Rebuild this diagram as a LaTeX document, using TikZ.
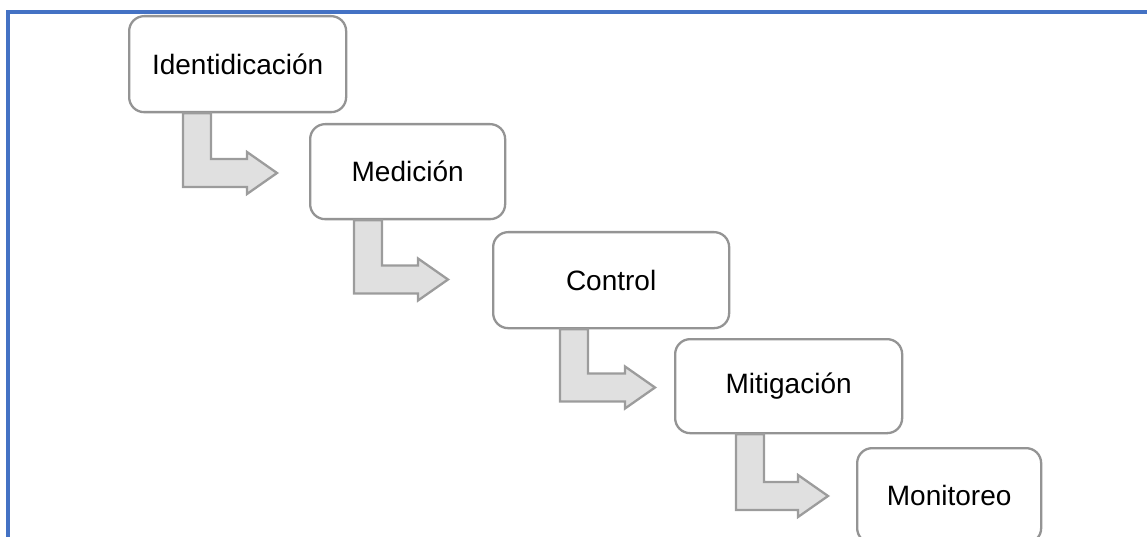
\documentclass[tikz,border=0pt]{standalone}
\usepackage{fontspec}
\setmainfont{Liberation Sans}
\definecolor{framecol}{HTML}{4472C4}
\definecolor{boxline}{HTML}{949494}
\definecolor{arrline}{HTML}{9C9C9C}
\definecolor{arrfill}{HTML}{E0E0E0}
\tikzset{
  stepbox/.style={draw=boxline, line width=2.3pt, rounded corners=15pt, fill=white,
    font=\fontsize{28}{34}\selectfont, inner sep=0pt, anchor=north west},
  blockarrow/.style={draw=arrline, fill=arrfill, line width=2.3pt, line join=miter},
  framestyle/.style={draw=framecol, line width=3.2pt}
}
\newcommand\blockarr[4]{%
  \draw[blockarrow] (#2,0 |- #1.south) -- (#2,#3+14) -- (#4-30,#3+14) -- (#4-30,#3+21)
    -- (#4,#3) -- (#4-30,#3-21) -- (#4-30,#3-14) -- (#2+28,#3-14) -- (#2+28,0 |- #1.south) -- cycle;}
\begin{document}
\begin{tikzpicture}[x=1pt,y=-1pt]
\useasboundingbox (0,0) rectangle (1147,537);
\draw[framestyle] (1152,12) -- (8,12) -- (8,542);
% boxes
\node[stepbox, minimum width=217pt, minimum height=96pt] (n1) at (128,15) {Identidicación};
\node[stepbox, minimum width=195pt, minimum height=95pt] (n2) at (309,123) {Medición};
\node[stepbox, minimum width=236pt, minimum height=96pt] (n3) at (492,231) {Control};
\node[stepbox, minimum width=227pt, minimum height=94pt] (n4) at (674,338) {Mitigación};
\node[stepbox, minimum width=184pt, minimum height=95pt] (n5) at (856,447) {Monitoreo};
% block arrows
\blockarr{n1}{183}{173}{277}
\blockarr{n2}{354}{279.5}{448}
\blockarr{n3}{560}{387.5}{655}
\blockarr{n4}{736}{496}{828}
\end{tikzpicture}
\end{document}
